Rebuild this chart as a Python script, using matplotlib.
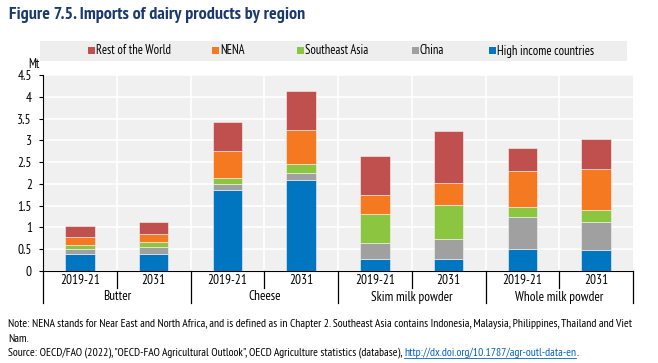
import matplotlib
matplotlib.use("Agg")
import matplotlib.pyplot as plt
from matplotlib import font_manager
import numpy as np

fonts = font_manager.fontManager.ttflist
cands = ["Liberation Sans Narrow", "Arial Narrow", "Archivo Narrow", "PT Sans Narrow",
         "Roboto Condensed", "Open Sans Condensed", "Encode Sans Condensed", "Pragati Narrow"]

def weights(name):
    out = set()
    for f in fonts:
        if f.name == name and f.style == "normal":
            w = f.weight
            out.add(int(w) if str(w).isdigit() else {"bold": 700, "normal": 400, "regular": 400}.get(str(w), 400))
    return out

FONT = None
for c in cands:
    ws = weights(c)
    if 400 in ws and any(w >= 700 for w in ws):
        FONT = c
        break
if FONT is None:
    FONT = next((c for c in cands if weights(c)), "Liberation Sans")
plt.rcParams['font.family'] = [FONT, 'DejaVu Sans']

groups = ["Butter", "Cheese", "Skim milk powder", "Whole milk powder"]
years = ["2019-21", "2031"]
series = ["High income countries", "China", "Southeast Asia", "NENA", "Rest of the World"]
colors = ["#0075C0", "#A0A0A0", "#8CC540", "#F47920", "#C0504D"]

# order of bars: Butter 19-21, Butter 2031, Cheese..., SMP..., WMP...
high_income = [0.38, 0.38, 1.86, 2.10, 0.28, 0.28, 0.51, 0.48]
china       = [0.12, 0.16, 0.13, 0.16, 0.37, 0.45, 0.72, 0.65]
se_asia     = [0.10, 0.12, 0.14, 0.19, 0.67, 0.78, 0.24, 0.28]
nena        = [0.17, 0.19, 0.63, 0.79, 0.42, 0.51, 0.83, 0.94]
rest_world  = [0.26, 0.27, 0.67, 0.89, 0.91, 1.20, 0.53, 0.68]
data = [high_income, china, se_asia, nena, rest_world]

W, H = 658, 363
fig = plt.figure(figsize=(W/100, H/100), dpi=100)

def fx(px): return px / W
def fy(py): return 1 - py / H

ax = fig.add_axes([fx(43), fy(271), fx(633) - fx(43), fy(75) - fy(271)])
ax.set_facecolor("#F0F0F0")
x = np.arange(8)
bottom = np.zeros(8)
for vals, c, name in zip(data, colors, series):
    ax.bar(x, vals, width=0.4, bottom=bottom, color=c, edgecolor="#F6F6F6",
           linewidth=0.4, label=name, zorder=3)
    bottom += np.array(vals)

ax.set_xlim(-0.5, 7.5)
ax.set_ylim(0, 4.5)
ax.set_yticks(np.arange(0, 4.51, 0.5))
ax.set_yticklabels(["0", "0.5", "1", "1.5", "2", "2.5", "3", "3.5", "4", "4.5"])
ax.grid(axis="y", color="white", linewidth=1.2, zorder=1)
for xv in np.arange(0.5, 7.5, 1):
    ax.axvline(xv, color="white", linewidth=1.2, zorder=1)
for s in ["top", "right"]:
    ax.spines[s].set_visible(False)
for s in ["left", "bottom"]:
    ax.spines[s].set_color("black")
    ax.spines[s].set_linewidth(0.8)
ax.tick_params(axis="y", length=3, width=0.8, direction="out", labelsize=9.5, pad=5, colors="black")
ax.set_xticks(x)
ax.set_xticklabels(years * 4, fontsize=9.5)
ax.tick_params(axis="x", length=0, pad=2)

trans = ax.get_xaxis_transform()
axh = fy(75) - fy(271)
def ay(py):
    return (fy(py) - fy(271)) / axh
for i, xv in enumerate(np.arange(-0.5, 8.0, 1)):
    end = ay(303) if i % 2 == 0 else ay(288)
    ax.plot([xv, xv], [0, end], transform=trans, color="black", lw=0.9, clip_on=False, zorder=5)
for gi, g in enumerate(groups):
    ax.text(gi * 2 + 0.5, ay(297), g, transform=trans, ha="center", va="center", fontsize=9.5)

fig.text(fx(28), fy(64), "Mt", ha="left", va="center", fontsize=9)

band = plt.Rectangle((fx(40), fy(61)), fx(627) - fx(40), fy(41) - fy(61),
                     transform=fig.transFigure, facecolor="#EEEEEE", edgecolor="none", zorder=0)
fig.patches.append(band)
leg_items = list(zip(series, colors))[::-1]
leg_x = [88, 212, 297, 412, 489]
for (name, c), lx in zip(leg_items, leg_x):
    fig.patches.append(plt.Rectangle((fx(lx), fy(54)), fx(7), 7 / H, transform=fig.transFigure,
                                     facecolor=c, edgecolor="none"))
    fig.text(fx(lx + 8), fy(51), name, ha="left", va="center", fontsize=9)

fig.text(fx(9), fy(15), "Figure 7.5. Imports of dairy products by region", ha="left", va="center",
         fontsize=13, fontweight="bold", color="#1B3A6B")

NF = 8.4
note1 = ("Note: NENA stands for Near East and North Africa, and is defined as in Chapter 2. Southeast Asia "
         "contains Indonesia, Malaysia, Philippines, Thailand and Viet")
fig.text(fx(8), fy(324), note1, ha="left", va="center", fontsize=NF)
fig.text(fx(8), fy(339), "Nam.", ha="left", va="center", fontsize=NF)
src = 'Source: OECD/FAO (2022), "OECD-FAO Agricultural Outlook", OECD Agriculture statistics (database), '
t = fig.text(fx(8), fy(353), src, ha="left", va="center", fontsize=NF)
fig.canvas.draw()
bb = t.get_window_extent()
t2 = fig.text(bb.x1 / W, fy(353), "http://dx.doi.org/10.1787/agr-outl-data-en", ha="left", va="center",
              fontsize=NF, color="#0563C1")
fig.canvas.draw()
bb2 = t2.get_window_extent()
fig.add_artist(plt.Line2D([bb2.x0 / W, bb2.x1 / W], [fy(358), fy(358)], transform=fig.transFigure,
                          color="#0563C1", lw=0.6))
fig.text(bb2.x1 / W, fy(353), ".", ha="left", va="center", fontsize=NF)

fig.savefig("out.png", dpi=100, facecolor="white")
